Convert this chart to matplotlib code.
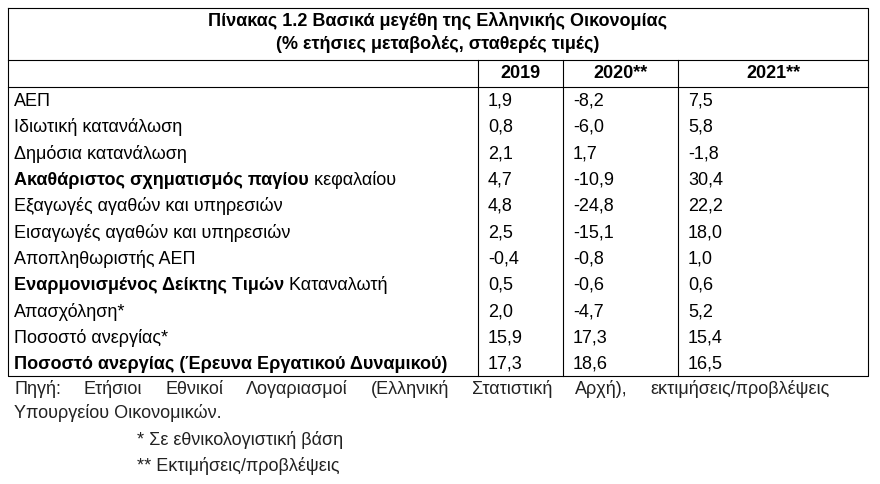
import matplotlib.pyplot as plt

plt.rcParams['font.family'] = ['Liberation Sans', 'DejaVu Sans']

title1 = "Πίνακας 1.2 Βασικά μεγέθη της Ελληνικής Οικονομίας"
title2 = "(% ετήσιες μεταβολές, σταθερές τιμές)"
years = ["2019", "2020**", "2021**"]
# (bold part, normal part)
labels = [
    ("", "ΑΕΠ"),
    ("", "Ιδιωτική κατανάλωση"),
    ("", "Δημόσια κατανάλωση"),
    ("Ακαθάριστος σχηματισμός παγίου", " κεφαλαίου"),
    ("", "Εξαγωγές αγαθών και υπηρεσιών"),
    ("", "Εισαγωγές αγαθών και υπηρεσιών"),
    ("", "Αποπληθωριστής ΑΕΠ"),
    ("Εναρμονισμένος Δείκτης Τιμών", " Καταναλωτή"),
    ("", "Απασχόληση*"),
    ("", "Ποσοστό ανεργίας*"),
    ("Ποσοστό ανεργίας (Έρευνα Εργατικού Δυναμικού)", ""),
]
v2019 = ["1,9", "0,8", "2,1", "4,7", "4,8", "2,5", "-0,4", "0,5", "2,0", "15,9", "17,3"]
v2020 = ["-8,2", "-6,0", "1,7", "-10,9", "-24,8", "-15,1", "-0,8", "-0,6", "-4,7", "17,3", "18,6"]
v2021 = ["7,5", "5,8", "-1,8", "30,4", "22,2", "18,0", "1,0", "0,6", "5,2", "15,4", "16,5"]
source_words = ["Πηγή:", "Ετήσιοι", "Εθνικοί", "Λογαριασμοί", "(Ελληνική", "Στατιστική",
                "Αρχή),", "εκτιμήσεις/προβλέψεις"]

fig = plt.figure(figsize=(8.8, 4.84), dpi=100)
ax = fig.add_axes([0, 0, 1, 1])
ax.set_xlim(0, 880)
ax.set_ylim(484, 0)
ax.axis('off')

L, R, T = 8, 868, 8
colx = [478, 563, 678]
row_top = 87
rh = 26.3
B = row_top + rh * len(labels)
lw = 0.8
fs = 13

ax.plot([L, R, R, L, L], [T, T, B, B, T], color='black', lw=lw)
ax.plot([L, R], [60, 60], color='black', lw=lw)
ax.plot([L, R], [row_top, row_top], color='black', lw=lw)
for x in colx:
    ax.plot([x, x], [60, B], color='black', lw=lw)

ax.text(438, 21, title1, ha='center', va='center', fontsize=fs, fontweight='bold')
ax.text(438, 44, title2, ha='center', va='center', fontsize=fs, fontweight='bold')
for x0, x1, y in zip(colx, colx[1:] + [R], years):
    ax.text((x0 + x1) / 2, 74, y, ha='center', va='center', fontsize=fs, fontweight='bold')

fig.canvas.draw()
r = fig.canvas.get_renderer()
inv = ax.transData.inverted()


def width(t):
    e = t.get_window_extent(r)
    return inv.transform((e.x1, 0))[0] - inv.transform((e.x0, 0))[0]


for i, (b, n) in enumerate(labels):
    y = row_top + rh * (i + 0.5) + 1
    x = 14
    if b:
        t = ax.text(x, y, b, ha='left', va='center', fontsize=fs, fontweight='bold')
        x += width(t)
    if n:
        ax.text(x, y, n, ha='left', va='center', fontsize=fs)
    for cx, v in zip(colx, (v2019[i], v2020[i], v2021[i])):
        ax.text(cx + 10, y, v, ha='left', va='center', fontsize=fs)

# justified source line
ts = [ax.text(0, 389, w, ha='left', va='center', fontsize=fs, color='#222222') for w in source_words]
ws = [width(t) for t in ts]
gap = (830 - 14 - sum(ws)) / (len(ws) - 1)
x = 14
for t, w in zip(ts, ws):
    t.set_x(x)
    x += w + gap
ax.text(14, 413, "Υπουργείου Οικονομικών.", ha='left', va='center', fontsize=fs, color='#222222')
ax.text(137, 440, "* Σε εθνικολογιστική βάση", ha='left', va='center', fontsize=fs, color='#222222')
ax.text(137, 466, "** Εκτιμήσεις/προβλέψεις", ha='left', va='center', fontsize=fs, color='#222222')

fig.savefig('out.png', dpi=100)
